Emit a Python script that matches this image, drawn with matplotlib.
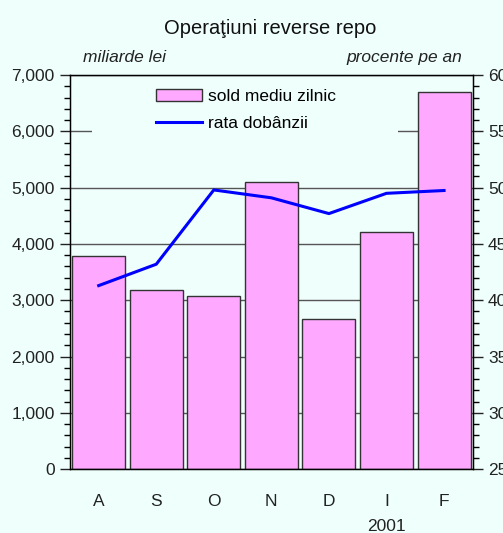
import numpy as np
import matplotlib
matplotlib.use("Agg")
import matplotlib.pyplot as plt
from matplotlib.ticker import MultipleLocator, FuncFormatter
from matplotlib.patches import Rectangle

plt.rcParams['font.family'] = ['Liberation Sans', 'DejaVu Sans']

luni = ['A', 'S', 'O', 'N', 'D', 'I', 'F']
sold = [3790, 3190, 3070, 5110, 2670, 4220, 6700]      # miliarde lei
rata = [41.3, 43.2, 49.8, 49.1, 47.7, 49.5, 49.75]       # procente pe an

bg = '#eefffc'
fig = plt.figure(figsize=(5.03, 5.33), dpi=100, facecolor=bg)
ax = fig.add_axes([0.139, 0.120, 0.801, 0.739])
ax.set_facecolor(bg)

x = np.arange(len(luni))
ax.bar(x, sold, width=0.92, color='#ffa8ff', edgecolor='#333333', linewidth=1.0,
       zorder=2, label='sold mediu zilnic')
ax.set_ylim(0, 7000)
ax.set_xlim(-0.5, len(luni) - 0.5)
ax.yaxis.set_major_locator(MultipleLocator(1000))
ax.yaxis.set_minor_locator(MultipleLocator(200))
ax.yaxis.set_major_formatter(FuncFormatter(lambda v, p: f'{int(v):,}'))
ax.grid(axis='y', color='#555555', linewidth=1.0, zorder=1)
ax.set_axisbelow(True)
# area behind the legend hides the grid line, as in the original
ax.add_patch(Rectangle((0.055, 0.80), 0.76, 0.18, transform=ax.transAxes,
                       facecolor=bg, edgecolor='none', zorder=1.5))
ax.set_xticks(x)
ax.set_xticklabels(luni)
ax.tick_params(axis='x', length=0, pad=18, labelsize=12.5, colors='#222222')
ax.tick_params(axis='y', which='major', direction='out', length=7, width=1,
               labelsize=12.5, pad=4, colors='#222222')
ax.tick_params(axis='y', which='minor', direction='out', length=4, width=1)
for s in ax.spines.values():
    s.set_linewidth(1.0)

ax2 = ax.twinx()
ax2.plot(x, rata, color='#0000ff', linewidth=2.2, zorder=5, label='rata dobânzii')
ax2.set_ylim(25, 60)
ax2.yaxis.set_major_locator(MultipleLocator(5))
ax2.yaxis.set_minor_locator(MultipleLocator(1))
ax2.tick_params(axis='y', which='major', direction='out', length=7, width=1,
                labelsize=12.5, pad=4, colors='#222222')
ax2.tick_params(axis='y', which='minor', direction='out', length=4, width=1)

h1, l1 = ax.get_legend_handles_labels()
h2, l2 = ax2.get_legend_handles_labels()
leg = ax2.legend(h1 + h2, l1 + l2, loc='upper left',
                 bbox_to_anchor=(0.213, 0.965),
                 fontsize=12.5, frameon=False, handlelength=2.65,
                 handleheight=0.7, handletextpad=0.35, labelspacing=0.68,
                 borderpad=0.0, borderaxespad=0.0)

fig.text(0.538, 0.946, 'Operaţiuni reverse repo', ha='center', va='center',
         fontsize=14.5, color='#111111')
fig.text(0.165, 0.892, 'miliarde lei', ha='left', va='center', style='italic',
         fontsize=12.5, color='#222222')
fig.text(0.919, 0.892, 'procente pe an', ha='right', va='center', style='italic',
         fontsize=12.5, color='#222222')
ax.text(5, -0.145, '2001', transform=ax.get_xaxis_transform(), ha='center',
        va='center', fontsize=12.5, color='#222222')

fig.savefig('out.png', dpi=100, facecolor=bg)
